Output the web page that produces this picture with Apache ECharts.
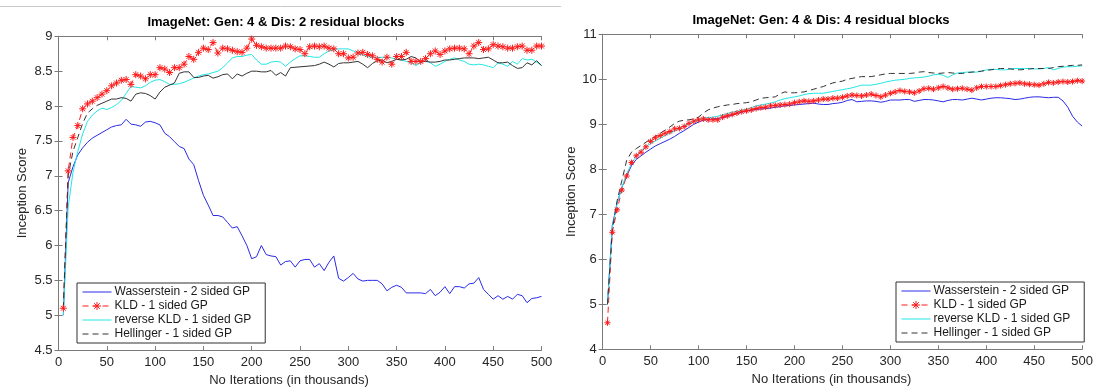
<!DOCTYPE html>
<html>
<head>
<meta charset="utf-8">
<script src="https://cdn.jsdelivr.net/npm/echarts@6/dist/echarts.min.js"></script>
<style>
  html, body { margin: 0; padding: 0; background: #fff; }
  #chart { width: 1096px; height: 392px; }
</style>
</head>
<body>
<div id="chart"></div>
<script>
// iterations in thousands, one sample every 5k
var iters = [5, 10, 15, 20, 25, 30, 35, 40, 45, 50, 55, 60, 65, 70, 75, 80, 85, 90, 95, 100,
  105, 110, 115, 120, 125, 130, 135, 140, 145, 150, 155, 160, 165, 170, 175, 180, 185, 190, 195, 200,
  205, 210, 215, 220, 225, 230, 235, 240, 245, 250, 255, 260, 265, 270, 275, 280, 285, 290, 295, 300,
  305, 310, 315, 320, 325, 330, 335, 340, 345, 350, 355, 360, 365, 370, 375, 380, 385, 390, 395, 400,
  405, 410, 415, 420, 425, 430, 435, 440, 445, 450, 455, 460, 465, 470, 475, 480, 485, 490, 495, 500];

var seriesNames = ['Wasserstein - 2 sided GP', 'KLD - 1 sided GP', 'reverse KLD - 1 sided GP', 'Hellinger - 1 sided GP'];
var titles = ['ImageNet: Gen: 4 & Dis: 2 residual blocks', 'ImageNet: Gen: 4 & Dis: 4 residual blocks'];

// ---- Gen 4 / Dis 2 ----
var wassLeft = [5.0, 6.9, 7.13, 7.3, 7.4, 7.48, 7.54, 7.58, 7.62, 7.66,
  7.7, 7.72, 7.73, 7.81, 7.74, 7.73, 7.71, 7.77, 7.78, 7.76,
  7.73, 7.61, 7.56, 7.49, 7.42, 7.39, 7.24, 7.16, 6.93, 6.72,
  6.58, 6.43, 6.43, 6.41, 6.33, 6.25, 6.27, 6.14, 6.0, 5.81,
  5.84, 6.0, 5.87, 5.85, 5.84, 5.72, 5.77, 5.78, 5.69, 5.78,
  5.8, 5.8, 5.69, 5.74, 5.64, 5.76, 5.85, 5.53, 5.49, 5.54,
  5.6, 5.52, 5.49, 5.5, 5.5, 5.5, 5.45, 5.35, 5.4, 5.43,
  5.4, 5.32, 5.32, 5.32, 5.32, 5.31, 5.37, 5.28, 5.33, 5.41,
  5.31, 5.41, 5.41, 5.39, 5.45, 5.46, 5.54, 5.37, 5.3, 5.23,
  5.28, 5.23, 5.27, 5.23, 5.3, 5.28, 5.18, 5.24, 5.25, 5.27];
var kldLeft = [5.1, 7.07, 7.55, 7.72, 7.96, 8.03, 8.07, 8.12, 8.17, 8.22,
  8.29, 8.33, 8.37, 8.38, 8.31, 8.45, 8.43, 8.39, 8.45, 8.45,
  8.55, 8.53, 8.48, 8.55, 8.55, 8.6, 8.71, 8.67, 8.77, 8.83,
  8.81, 8.91, 8.76, 8.83, 8.82, 8.8, 8.78, 8.77, 8.83, 8.96,
  8.87, 8.85, 8.83, 8.83, 8.83, 8.83, 8.86, 8.85, 8.82, 8.81,
  8.75, 8.85, 8.86, 8.85, 8.86, 8.83, 8.82, 8.75, 8.75, 8.69,
  8.7, 8.76, 8.77, 8.74, 8.72, 8.67, 8.63, 8.7, 8.6, 8.71,
  8.71, 8.77, 8.64, 8.64, 8.64, 8.68, 8.75, 8.79, 8.74, 8.79,
  8.82, 8.83, 8.83, 8.82, 8.75, 8.86, 8.91, 8.81, 8.82, 8.88,
  8.86, 8.85, 8.83, 8.83, 8.85, 8.86, 8.8, 8.8, 8.86, 8.86];
var revKldLeft = [5.0, 6.55, 7.05, 7.35, 7.6, 7.78, 7.87, 7.93, 7.97, 7.95,
  7.98, 8.02, 8.08, 8.18, 8.28, 8.27, 8.26, 8.29, 8.34, 8.37,
  8.38, 8.35, 8.31, 8.31, 8.32, 8.34, 8.37, 8.4, 8.43, 8.45,
  8.46, 8.48, 8.5, 8.55, 8.62, 8.69, 8.71, 8.71, 8.73, 8.74,
  8.66, 8.6, 8.6, 8.63, 8.64, 8.63, 8.57, 8.63, 8.68, 8.72,
  8.72, 8.71, 8.7, 8.7, 8.75, 8.79, 8.81, 8.82, 8.82, 8.82,
  8.79, 8.76, 8.73, 8.71, 8.7, 8.69, 8.7, 8.7, 8.69, 8.67,
  8.66, 8.64, 8.62, 8.58, 8.62, 8.66, 8.62, 8.57, 8.6, 8.64,
  8.67, 8.69, 8.66, 8.64, 8.6, 8.59, 8.6, 8.59, 8.57, 8.55,
  8.62, 8.6, 8.57, 8.64, 8.6, 8.68, 8.66, 8.67, 8.63, 8.58];
// Hellinger run has no samples between 240k and 265k
var hellLeftIters = [5, 10, 15, 20, 25, 30, 35, 40, 45, 50, 55, 60, 65, 70, 75, 80, 85, 90, 95, 100,
  105, 110, 115, 120, 125, 130, 135, 140, 145, 150, 155, 160, 165, 170, 175, 180, 185, 190, 195, 200,
  205, 210, 215, 220, 225, 230, 235, 240, 265, 270, 275, 280, 285, 290, 295, 300,
  305, 310, 315, 320, 325, 330, 335, 340, 345, 350, 355, 360, 365, 370, 375, 380, 385, 390, 395, 400,
  405, 410, 415, 420, 425, 430, 435, 440, 445, 450, 455, 460, 465, 470, 475, 480, 485, 490, 495, 500];
var hellLeft = [5.1, 7.0, 7.35, 7.55, 7.75, 7.9, 7.96, 8.01, 8.04, 8.07,
  8.1, 8.1, 8.12, 8.11, 8.07, 8.17, 8.19, 8.18, 8.15, 8.1,
  8.2, 8.27, 8.3, 8.33, 8.47, 8.49, 8.49, 8.41, 8.41, 8.43,
  8.44, 8.4, 8.42, 8.45, 8.46, 8.39, 8.46, 8.43, 8.47, 8.5,
  8.5, 8.49, 8.49, 8.51, 8.44, 8.48, 8.43, 8.55,
  8.58, 8.6, 8.63, 8.6, 8.56, 8.61, 8.62, 8.62,
  8.63, 8.64, 8.6, 8.55, 8.61, 8.65, 8.66, 8.62, 8.64, 8.67,
  8.66, 8.67, 8.71, 8.69, 8.63, 8.64, 8.63, 8.63, 8.64, 8.66,
  8.66, 8.67, 8.68, 8.69, 8.69, 8.69, 8.68, 8.69, 8.7, 8.66,
  8.62, 8.62, 8.63, 8.58, 8.54, 8.55, 8.62, 8.59, 8.65, 8.58];

// ---- Gen 4 / Dis 4 ----
var wassRight = [5.0, 6.75, 7.25, 7.6, 7.85, 8.08, 8.22, 8.3, 8.38, 8.45,
  8.52, 8.57, 8.62, 8.67, 8.73, 8.8, 8.86, 8.93, 9.0, 9.05,
  9.09, 9.11, 9.12, 9.13, 9.15, 9.17, 9.2, 9.24, 9.27, 9.3,
  9.31, 9.33, 9.34, 9.35, 9.36, 9.38, 9.39, 9.41, 9.42, 9.43,
  9.44, 9.45, 9.46, 9.47, 9.45, 9.44, 9.44, 9.46, 9.47, 9.49,
  9.53, 9.55, 9.5, 9.51, 9.52, 9.52, 9.51, 9.49, 9.51, 9.54,
  9.54, 9.54, 9.55, 9.55, 9.51, 9.53, 9.55, 9.55, 9.54, 9.52,
  9.5, 9.53, 9.55, 9.55, 9.54, 9.56, 9.58, 9.56, 9.54, 9.56,
  9.58, 9.59, 9.59, 9.58, 9.57, 9.55, 9.56, 9.58, 9.6, 9.61,
  9.61, 9.6, 9.59, 9.6, 9.6, 9.52, 9.38, 9.18, 9.05, 8.96];
var kldRight = [4.59, 6.6, 7.1, 7.54, 7.85, 8.15, 8.3, 8.38, 8.5, 8.62,
  8.7, 8.75, 8.8, 8.84, 8.9, 8.91, 8.95, 9.02, 9.07, 9.1,
  9.12, 9.1, 9.1, 9.1, 9.16, 9.19, 9.22, 9.25, 9.28, 9.3,
  9.32, 9.35, 9.37, 9.38, 9.41, 9.42, 9.43, 9.44, 9.45, 9.48,
  9.5, 9.52, 9.51, 9.52, 9.54, 9.56, 9.56, 9.58, 9.58, 9.6,
  9.63, 9.65, 9.64, 9.63, 9.65, 9.67, 9.64, 9.61, 9.65, 9.69,
  9.72, 9.75, 9.73, 9.72, 9.7, 9.74, 9.79, 9.8, 9.78, 9.81,
  9.84, 9.81, 9.78, 9.79, 9.8, 9.78, 9.76, 9.81, 9.84, 9.84,
  9.84, 9.84, 9.86, 9.88, 9.9, 9.91, 9.92, 9.9, 9.89, 9.88,
  9.87, 9.9, 9.93, 9.92, 9.94, 9.95, 9.94, 9.95, 9.97, 9.96];
var revKldRight = [5.0, 6.7, 7.25, 7.6, 7.9, 8.12, 8.3, 8.42, 8.5, 8.57,
  8.63, 8.69, 8.75, 8.8, 8.85, 8.91, 8.97, 9.02, 9.06, 9.1,
  9.14, 9.15, 9.16, 9.18, 9.21, 9.24, 9.27, 9.29, 9.31, 9.34,
  9.37, 9.41, 9.43, 9.45, 9.47, 9.5, 9.54, 9.57, 9.59, 9.61,
  9.63, 9.66, 9.68, 9.69, 9.69, 9.69, 9.71, 9.73, 9.75, 9.77,
  9.79, 9.81, 9.84, 9.87, 9.87, 9.87, 9.89, 9.91, 9.94, 9.96,
  9.98, 9.99, 10.0, 10.02, 10.03, 10.04, 10.05, 10.07, 10.1, 10.11,
  10.09, 10.04, 10.1, 10.14, 10.15, 10.16, 10.16, 10.16, 10.18, 10.21,
  10.22, 10.22, 10.21, 10.21, 10.23, 10.24, 10.24, 10.24, 10.24, 10.23,
  10.23, 10.24, 10.26, 10.21, 10.24, 10.27, 10.28, 10.28, 10.29, 10.3];
var hellRight = [5.0, 6.65, 7.3, 7.75, 8.2, 8.38, 8.46, 8.53, 8.6, 8.67,
  8.73, 8.8, 8.87, 8.94, 9.02, 9.07, 9.09, 9.1, 9.12, 9.16,
  9.25, 9.32, 9.36, 9.39, 9.41, 9.43, 9.44, 9.46, 9.47, 9.48,
  9.5, 9.54, 9.58, 9.59, 9.6, 9.61, 9.68, 9.72, 9.7, 9.7,
  9.71, 9.72, 9.75, 9.78, 9.81, 9.84, 9.88, 9.92, 9.94, 9.96,
  10.0, 10.02, 10.04, 10.06, 10.06, 10.06, 10.08, 10.1, 10.12, 10.13,
  10.13, 10.13, 10.13, 10.13, 10.14, 10.16, 10.17, 10.15, 10.14, 10.13,
  10.14, 10.15, 10.14, 10.13, 10.13, 10.15, 10.16, 10.17, 10.18, 10.2,
  10.21, 10.23, 10.24, 10.24, 10.23, 10.22, 10.21, 10.22, 10.23, 10.24,
  10.24, 10.24, 10.24, 10.26, 10.28, 10.29, 10.3, 10.31, 10.31, 10.32];

var FONT = 'Liberation Sans, Arial, sans-serif';
var AXIS_COLOR = '#7a7a7a';
var TEXT_COLOR = '#262626';
var STAR = 'path://M5,0L5,10M0,5L10,5M1.5,1.5L8.5,8.5M1.5,8.5L8.5,1.5';
var BLUE = '#2a2ae6';
var RED = '#ff1a1a';
var CYAN = '#22e6e6';
var BLACK = '#333333';

function pairs (xs, ys) {
  return xs.map(function (x, i) {
    return [x, ys[i]];
  });
}

function xAxes (grid) {
  var base = {
    gridIndex: grid,
    type: 'value',
    min: 0,
    max: 500,
    interval: 50,
    axisLine: {lineStyle: {color: AXIS_COLOR, width: 1}},
    axisTick: {inside: true, length: 4, lineStyle: {color: AXIS_COLOR}},
    splitLine: {show: false}
  };
  var bottom = Object.assign({}, base, {
    position: 'bottom',
    name: 'No Iterations (in thousands)',
    nameLocation: 'middle',
    nameGap: grid === 0 ? 22 : 20,
    nameTextStyle: {fontFamily: FONT, fontSize: 13, color: TEXT_COLOR, padding: [0, 22, 0, 0]},
    axisLabel: {fontFamily: FONT, fontSize: 13, color: TEXT_COLOR, margin: 6}
  });
  var top = Object.assign({}, base, {position: 'top', axisLabel: {show: false}});
  return [bottom, top];
}

function yAxes (grid, min, max, step) {
  var base = {
    gridIndex: grid,
    type: 'value',
    min: min,
    max: max,
    interval: step,
    axisLine: {lineStyle: {color: AXIS_COLOR, width: 1}},
    axisTick: {inside: true, length: 4, lineStyle: {color: AXIS_COLOR}},
    splitLine: {show: false}
  };
  var left = Object.assign({}, base, {
    position: 'left',
    name: 'Inception Score',
    nameLocation: 'middle',
    nameRotate: 90,
    nameGap: grid === 0 ? 30 : 23,
    nameTextStyle: {fontFamily: FONT, fontSize: 13, color: TEXT_COLOR},
    axisLabel: {fontFamily: FONT, fontSize: 13, color: TEXT_COLOR, margin: 6}
  });
  var right = Object.assign({}, base, {position: 'right', axisLabel: {show: false}});
  return [left, right];
}

function lineSeries (name, axis, data, color, dash) {
  return {
    name: name,
    type: 'line',
    xAxisIndex: axis,
    yAxisIndex: axis,
    data: data,
    symbol: 'none',
    silent: true,
    itemStyle: {color: color},
    lineStyle: {color: color, width: 1, type: dash || 'solid'}
  };
}

function kldSeries (axis, data, size) {
  return {
    name: seriesNames[1],
    type: 'line',
    xAxisIndex: axis,
    yAxisIndex: axis,
    data: data,
    symbol: STAR,
    symbolSize: size,
    showSymbol: true,
    silent: true,
    itemStyle: {color: 'rgba(0,0,0,0)', borderColor: RED, borderWidth: 1},
    lineStyle: {color: RED, width: 1, type: [6, 4]}
  };
}

// legend entries: plain lines, only KLD carries its asterisk
var legendItems = [
  {name: seriesNames[0], itemStyle: {opacity: 0}},
  {name: seriesNames[1], itemStyle: {color: 'rgba(0,0,0,0)', borderColor: RED, borderWidth: 1}},
  {name: seriesNames[2], itemStyle: {opacity: 0}},
  {name: seriesNames[3], itemStyle: {opacity: 0}}
];

function legendAt (left, top) {
  return {
    orient: 'vertical',
    left: left,
    top: top,
    data: legendItems,
    itemWidth: 29,
    itemHeight: 10,
    itemGap: 0,
    padding: [2, 14, 2, 5],
    backgroundColor: '#fff',
    borderColor: '#303030',
    borderWidth: 1,
    borderRadius: 0,
    selectedMode: false,
    lineStyle: {width: 1},
    textStyle: {fontFamily: FONT, fontSize: 12, lineHeight: 14, color: '#1a1a1a', padding: [0, 0, 0, -2]}
  };
}

var chart = echarts.init(document.getElementById('chart'), null, {renderer: 'canvas'});

var option = {
  animation: false,
  backgroundColor: '#fff',
  title: [
    {text: titles[0], left: 276, top: 16, textAlign: 'center', padding: 0,
      textStyle: {fontFamily: FONT, fontSize: 13, fontWeight: 'bold', color: '#000'}},
    {text: titles[1], left: 821, top: 14, textAlign: 'center', padding: 0,
      textStyle: {fontFamily: FONT, fontSize: 13, fontWeight: 'bold', color: '#000'}}
  ],
  graphic: [{
    type: 'line',
    shape: {x1: 0, y1: 6.5, x2: 561, y2: 6.5},
    style: {stroke: '#c8c8c8', lineWidth: 1}
  }],
  legend: [legendAt(77, 283), legendAt(896, 282)],
  grid: [
    {left: 58.5, top: 36.3, width: 483, height: 315.2},
    {left: 602.7, top: 34.3, width: 486.7, height: 315}
  ],
  xAxis: xAxes(0).concat(xAxes(1)),
  yAxis: yAxes(0, 4.5, 9, 0.5).concat(yAxes(1, 4, 11, 1)),
  series: [
    // left panel: axis index 0
    lineSeries(seriesNames[0], 0, pairs(iters, wassLeft), BLUE),
    kldSeries(0, pairs(iters, kldLeft), 7),
    lineSeries(seriesNames[2], 0, pairs(iters, revKldLeft), CYAN),
    lineSeries(seriesNames[3], 0, pairs(hellLeftIters, hellLeft).slice(0, 8), BLACK, [6, 4]),
    lineSeries(seriesNames[3], 0, pairs(hellLeftIters, hellLeft).slice(7), BLACK),
    // right panel: axis index 2
    lineSeries(seriesNames[0], 2, pairs(iters, wassRight), BLUE),
    kldSeries(2, pairs(iters, kldRight), 6),
    lineSeries(seriesNames[2], 2, pairs(iters, revKldRight), CYAN),
    lineSeries(seriesNames[3], 2, pairs(iters, hellRight), BLACK, [6, 4])
  ]
};

chart.setOption(option);
</script>
</body>
</html>
